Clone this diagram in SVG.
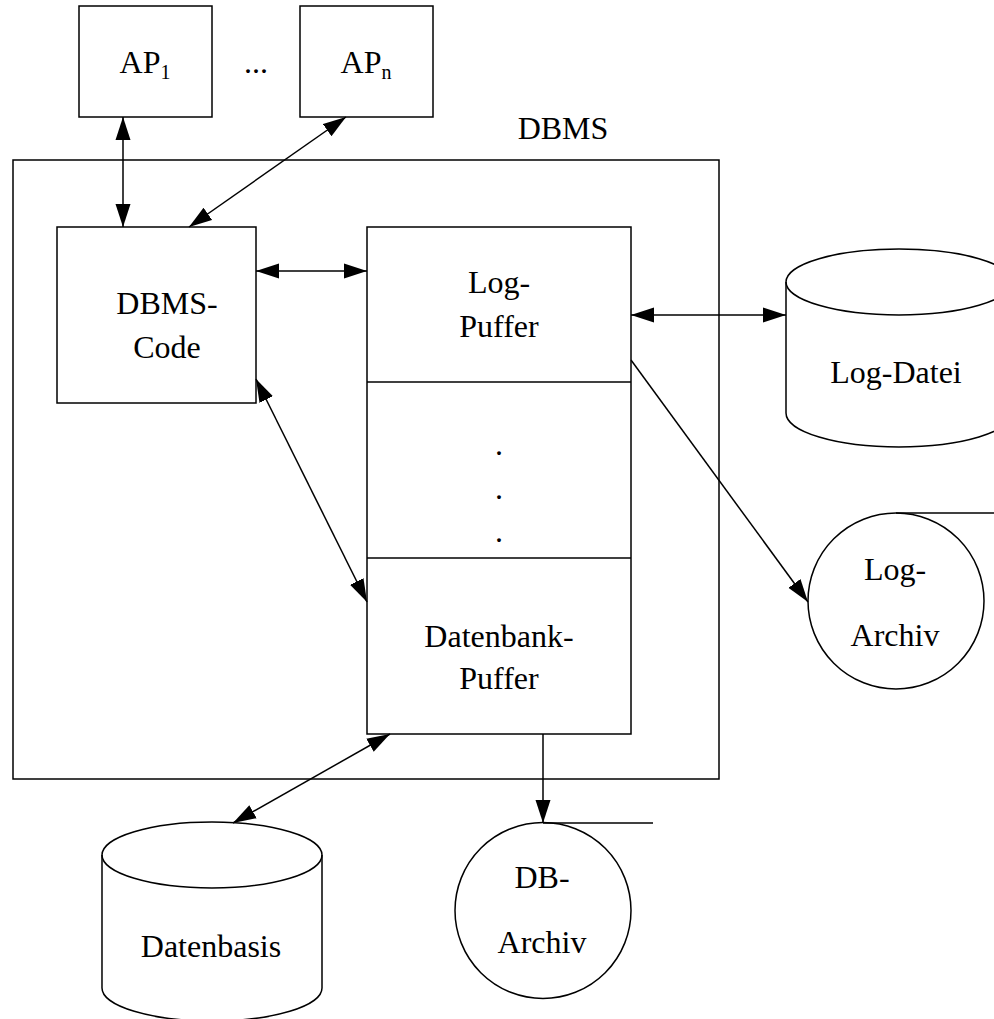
<svg xmlns="http://www.w3.org/2000/svg" width="994" height="1019" viewBox="0 0 994 1019" font-family="'Liberation Serif', Tinos, 'Times New Roman', 'DejaVu Serif', serif">
<style>
.s{fill:none;stroke:#000;stroke-width:1.5}
.w{fill:#fff;stroke:#000;stroke-width:1.5}
text{font-family:'Liberation Serif', Tinos, 'Times New Roman', 'DejaVu Serif', serif;font-size:32px;fill:#000;text-anchor:middle}
.sub{font-size:20px}
</style>
<defs>
<marker id="ah" markerUnits="userSpaceOnUse" markerWidth="25" markerHeight="17" refX="23" refY="8" orient="auto-start-reverse">
<path d="M0,0.5 L23,8 L0,15.5 z" fill="#000"/>
</marker>
</defs>
<g id="dbms">
<rect class="s" x="13" y="160" width="706" height="619"/>
<text x="563" y="139">DBMS</text>
</g>
<g id="ap1">
<rect class="w" x="79" y="6" width="133" height="111"/>
<text x="145" y="73">AP<tspan class="sub" dy="6">1</tspan></text>
</g>
<g id="dots-ap">
<text x="256" y="73">...</text>
</g>
<g id="apn">
<rect class="w" x="300" y="6" width="133" height="111"/>
<text x="366" y="73">AP<tspan class="sub" dy="6">n</tspan></text>
</g>
<g id="dbms-code">
<rect class="w" x="57" y="227" width="199" height="176"/>
<text x="167" y="314">DBMS-</text>
<text x="167" y="358">Code</text>
</g>
<g id="puffer">
<rect class="w" x="367" y="227" width="264" height="507"/>
<line class="s" x1="367" y1="382" x2="631" y2="382"/>
<line class="s" x1="367" y1="558" x2="631" y2="558"/>
<text x="499" y="293">Log-</text>
<text x="499" y="337">Puffer</text>
<text x="499" y="455">.</text>
<text x="499" y="499">.</text>
<text x="499" y="542">.</text>
<text x="499" y="647">Datenbank-</text>
<text x="499" y="689">Puffer</text>
</g>
<g id="log-datei">
<path class="w" d="M786,282 A113,33 0 0 1 1012,282 L1012,413 A113,34 0 0 1 786,413 Z"/>
<path class="s" d="M786,282 A113,33 0 0 0 1012,282"/>
<text x="896" y="383">Log-Datei</text>
</g>
<g id="log-archiv">
<circle class="w" cx="896" cy="601" r="88"/>
<line class="s" x1="896" y1="513" x2="994" y2="513"/>
<text x="895" y="580">Log-</text>
<text x="895" y="646">Archiv</text>
</g>
<g id="datenbasis">
<path class="w" d="M102,855 A110,33 0 0 1 322,855 L322,988 A110,33 0 0 1 102,988 Z"/>
<path class="s" d="M102,855 A110,33 0 0 0 322,855"/>
<text x="211" y="957">Datenbasis</text>
</g>
<g id="db-archiv">
<circle class="w" cx="543" cy="910.5" r="88"/>
<line class="s" x1="543" y1="823" x2="653" y2="823"/>
<text x="542" y="888">DB-</text>
<text x="542" y="953">Archiv</text>
</g>
<g id="connectors" class="s">
<line x1="123" y1="117" x2="123" y2="227" marker-start="url(#ah)" marker-end="url(#ah)"/>
<line x1="346" y1="117" x2="189" y2="227" marker-start="url(#ah)" marker-end="url(#ah)"/>
<line x1="256" y1="271" x2="367" y2="271" marker-start="url(#ah)" marker-end="url(#ah)"/>
<line x1="256" y1="379" x2="367" y2="602" marker-start="url(#ah)" marker-end="url(#ah)"/>
<line x1="631" y1="315" x2="786" y2="315" marker-start="url(#ah)" marker-end="url(#ah)"/>
<line x1="631" y1="360" x2="808" y2="602" marker-end="url(#ah)"/>
<line x1="390" y1="734" x2="233" y2="823" marker-start="url(#ah)" marker-end="url(#ah)"/>
<line x1="543" y1="734" x2="543" y2="823" marker-end="url(#ah)"/>
</g>
</svg>
